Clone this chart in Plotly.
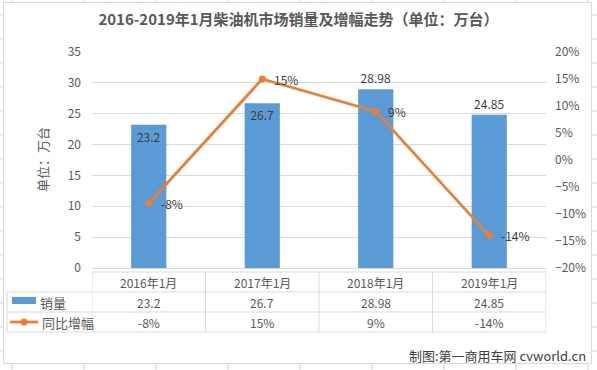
import plotly.graph_objects as go

# ---------------- data ----------------
categories = ["2016年1月", "2017年1月", "2018年1月", "2019年1月"]
sales = [23.2, 26.7, 28.98, 24.85]            # 销量 (万台)
growth = [-0.08, 0.15, 0.09, -0.14]           # 同比增幅
sales_labels = ["23.2", "26.7", "28.98", "24.85"]
growth_labels = ["-8%", "15%", "9%", "-14%"]
sales_label_pos = ["inside", "inside", "outside", "outside"]
series_names = ["销量", "同比增幅"]
title_text = "2016-2019年1月柴油机市场销量及增幅走势（单位：万台）"
ytitle_text = "单位：万台"
footer_text = "制图:第一商用车网 cvworld.cn"

# ---------------- geometry helpers (pixels -> paper) ----------------
W, H = 597, 370
PX0, PX1, PY0, PY1 = 92, 546, 52, 268


def xp(px):
    return (px - PX0) / (PX1 - PX0)


def yp(py):
    return (PY1 - py) / (PY1 - PY0)


FONT = "Noto Sans CJK SC"
BLUE = "#5B9BD5"
ORANGE = "#ED7D31"
GRID = "#D9D9D9"
TXT = "#595959"
DTXT = "#404040"

fig = go.Figure()

fig.add_trace(go.Bar(
    x=categories, y=sales, name=series_names[0],
    marker=dict(color=BLUE, line=dict(width=0)),
    text=sales_labels, textposition=sales_label_pos,
    insidetextanchor="end",
    textfont=dict(family=FONT, size=12, color=DTXT),
    constraintext="none", cliponaxis=False,
    width=0.31, yaxis="y",
))

fig.add_trace(go.Scatter(
    x=categories, y=growth, name=series_names[1], yaxis="y2",
    mode="lines+markers",
    line=dict(color=ORANGE, width=2.75),
    marker=dict(color=ORANGE, size=7),
    cliponaxis=False,
))

shapes = []
line_style = dict(color=GRID, width=1)


def hline(px_a, px_b, py):
    shapes.append(dict(type="line", xref="paper", yref="paper",
                       x0=xp(px_a), x1=xp(px_b), y0=yp(py), y1=yp(py),
                       line=line_style))


def vline_px(px, py_a, py_b, color=GRID):
    shapes.append(dict(type="line", xref="paper", yref="paper",
                       x0=xp(px), x1=xp(px), y0=yp(py_a), y1=yp(py_b),
                       line=dict(color=color, width=1)))


# spreadsheet gridlines visible outside the chart area
SHEET = "#D4D4D4"
for cx in range(12, 597, 72):
    vline_px(cx, 0, 2, SHEET)
    vline_px(cx, 364, 370, SHEET)
for ry in range(15, 370, 24):
    shapes.append(dict(type="line", xref="paper", yref="paper",
                       x0=xp(0), x1=xp(3), y0=yp(ry), y1=yp(ry),
                       line=dict(color=SHEET, width=1)))
    shapes.append(dict(type="line", xref="paper", yref="paper",
                       x0=xp(592), x1=xp(597), y0=yp(ry), y1=yp(ry),
                       line=dict(color=SHEET, width=1)))

# chart area border
shapes.append(dict(type="rect", xref="paper", yref="paper",
                   x0=xp(3.5), x1=xp(591.5), y0=yp(2.5), y1=yp(363.5),
                   line=dict(color=GRID, width=1), fillcolor="rgba(0,0,0,0)"))

# data table
T_TOP, R1, R2, R3 = 272, 292, 312, 332
hline(PX0, PX1, T_TOP)
hline(7, PX1, R1)
hline(7, PX1, R2)
hline(7, PX1, R3)
vline_px(7, R1, R3)
for i in range(len(categories) + 1):
    shapes.append(dict(type="line", xref="x", yref="paper",
                       x0=i - 0.5, x1=i - 0.5, y0=yp(T_TOP), y1=yp(R3),
                       line=line_style))

# legend keys inside the table
shapes.append(dict(type="rect", xref="paper", yref="paper",
                   x0=xp(12), x1=xp(36), y0=yp(297), y1=yp(304),
                   line=dict(width=0), fillcolor=BLUE))
shapes.append(dict(type="line", xref="paper", yref="paper",
                   x0=xp(10), x1=xp(38), y0=yp(322), y1=yp(322),
                   line=dict(color=ORANGE, width=2.75)))
shapes.append(dict(type="circle", xref="paper", yref="paper",
                   x0=xp(20.5), x1=xp(27.5), y0=yp(318.5), y1=yp(325.5),
                   line=dict(width=0), fillcolor=ORANGE))

annotations = []
tf = dict(family=FONT, size=12, color=TXT)

# line data labels (to the right of each point)
for c, g, lab in zip(categories, growth, growth_labels):
    annotations.append(dict(x=c, xref="x", y=g, yref="y2", text=lab,
                            showarrow=False, xanchor="left", yanchor="middle",
                            xshift=10, font=dict(family=FONT, size=12, color=DTXT)))

for i, c in enumerate(categories):
    annotations.append(dict(x=c, xref="x", y=yp((T_TOP + R1) / 2), yref="paper",
                            text=c, showarrow=False, font=tf,
                            xanchor="center", yanchor="middle"))
    annotations.append(dict(x=c, xref="x", y=yp((R1 + R2) / 2), yref="paper",
                            text=sales_labels[i], showarrow=False, font=tf,
                            xanchor="center", yanchor="middle"))
    annotations.append(dict(x=c, xref="x", y=yp((R2 + R3) / 2), yref="paper",
                            text=growth_labels[i], showarrow=False, font=tf,
                            xanchor="center", yanchor="middle"))

annotations.append(dict(x=xp(38), xref="paper", y=yp((R1 + R2) / 2), yref="paper",
                        text=series_names[0], showarrow=False,
                        font=dict(family=FONT, size=13, color=TXT),
                        xanchor="left", yanchor="middle"))
annotations.append(dict(x=xp(40), xref="paper", y=yp((R2 + R3) / 2), yref="paper",
                        text=series_names[1], showarrow=False,
                        font=dict(family=FONT, size=13, color=TXT),
                        xanchor="left", yanchor="middle"))

# y-axis title
annotations.append(dict(x=xp(42), xref="paper", y=0.5, yref="paper",
                        text=ytitle_text, textangle=-90, showarrow=False,
                        font=dict(family=FONT, size=13, color=TXT),
                        xanchor="center", yanchor="middle"))

# footer
annotations.append(dict(x=xp(588), xref="paper", y=yp(355), yref="paper",
                        text=footer_text, showarrow=False,
                        font=dict(family=FONT, size=13, color=DTXT),
                        xanchor="right", yanchor="middle"))

fig.update_layout(
    width=W, height=H, autosize=False,
    margin=dict(l=PX0, r=W - PX1, t=PY0, b=H - PY1, pad=0),
    paper_bgcolor="white", plot_bgcolor="rgba(0,0,0,0)",
    showlegend=False,
    title=dict(text="<b>" + title_text + "</b>", x=0.5, xanchor="center",
               y=1 - 20 / H, yanchor="middle", yref="container",
               font=dict(family=FONT, size=15, color=TXT)),
    bargap=0.69,
    xaxis=dict(type="category", range=[-0.5, 3.5], showticklabels=False,
               showgrid=False, zeroline=False, showline=False, ticks=""),
    yaxis=dict(range=[0, 35], dtick=5, tick0=0, showgrid=True, gridcolor=GRID,
               gridwidth=1, zeroline=True, zerolinecolor=GRID, zerolinewidth=1,
               showline=False, ticks="", ticklabelstandoff=10,
               tickfont=dict(family=FONT, size=12, color=TXT)),
    yaxis2=dict(range=[-0.2, 0.2], dtick=0.05, tick0=0, tickformat=".0%",
                overlaying="y", side="right", showgrid=False, zeroline=False,
                showline=False, ticks="", ticklabelstandoff=8,
                tickfont=dict(family=FONT, size=12, color=TXT)),
    shapes=shapes,
    annotations=annotations,
)

fig.write_html(
    "out.html",
    config={"displayModeBar": False},
    post_script="document.body.style.margin='0';document.body.style.padding='0';"
                "document.body.style.overflow='hidden';",
)
